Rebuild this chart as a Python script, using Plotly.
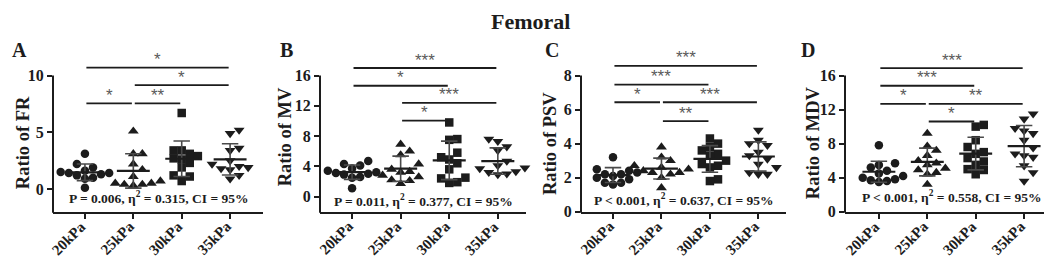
import plotly.graph_objects as go
import numpy as np

# ---------------- data ----------------
categories = ["20kPa", "25kPa", "30kPa", "35kPa"]

fr_20 = [3.1, 2.2, 1.9, 1.6, 1.5, 1.4, 1.4, 1.3, 1.2, 1.0, 0.9, 0.1]
fr_25 = [5.1, 3.1, 3.1, 2.2, 1.7, 1.1, 0.7, 0.5, 0.5, 0.4, 0.4, 0.3]
fr_30 = [6.7, 3.4, 3.4, 3.1, 2.9, 2.7, 2.6, 2.3, 1.9, 1.2, 1.1, 0.7]
fr_35 = [5.2, 4.9, 3.6, 3.4, 2.5, 2.2, 2.0, 1.9, 1.8, 1.7, 1.2, 0.9]

mv_20 = [4.7, 4.3, 4.1, 3.7, 3.4, 3.2, 3.1, 3.0, 2.9, 2.6, 2.5, 1.1]
mv_25 = [6.9, 6.0, 5.5, 4.3, 3.6, 3.3, 3.2, 2.8, 2.6, 2.2, 2.1, 1.7]
mv_30 = [9.8, 7.6, 7.5, 5.8, 5.2, 4.9, 4.4, 3.6, 2.5, 2.4, 1.9, 1.8]
mv_35 = [7.6, 7.3, 6.6, 6.1, 4.7, 4.1, 3.8, 3.7, 3.3, 3.2, 3.0, 2.9]

psv_20 = [3.2, 2.5, 2.4, 2.3, 2.2, 2.2, 2.1, 2.0, 1.9, 1.7, 1.7, 1.6]
psv_25 = [3.8, 3.2, 3.0, 2.7, 2.6, 2.5, 2.4, 2.3, 2.3, 2.2, 2.0, 1.4]
psv_30 = [4.3, 4.0, 3.8, 3.6, 3.4, 3.3, 3.0, 2.8, 2.7, 2.6, 1.9, 1.8]
psv_35 = [4.8, 4.2, 4.0, 3.9, 3.5, 3.3, 3.1, 2.8, 2.6, 2.3, 2.2, 2.2]

mdv_20 = [7.8, 5.7, 5.5, 5.2, 4.8, 4.5, 4.2, 4.0, 3.8, 3.7, 3.6, 3.5]
mdv_25 = [9.2, 7.7, 7.2, 6.6, 6.0, 5.7, 5.5, 5.1, 4.9, 4.6, 4.4, 3.2]
mdv_30 = [10.2, 10.0, 8.4, 7.6, 7.0, 6.8, 6.3, 5.9, 5.5, 5.0, 4.9, 4.4]
mdv_35 = [11.5, 10.9, 9.8, 9.5, 9.2, 8.4, 7.5, 6.8, 6.6, 6.4, 5.4, 4.6, 3.6]

# significance comparisons: (group i, group j, bar level, label)
sig_fr = [(0, 3, 10.7, "*"), (1, 3, 9.15, "*"), (0, 1, 7.55, "*"), (1, 2, 7.55, "**")]
sig_mv = [(0, 3, 17.0, "***"), (0, 2, 14.65, "*"), (1, 3, 12.4, "***"), (1, 2, 10.05, "*")]
sig_psv = [(0, 3, 8.57, "***"), (0, 2, 7.47, "***"), (0, 1, 6.43, "*"), (1, 3, 6.43, "***"), (1, 2, 5.32, "**")]
sig_mdv = [(0, 3, 16.87, "***"), (0, 2, 14.8, "***"), (0, 1, 12.67, "*"), (1, 3, 12.67, "**"), (1, 2, 10.6, "*")]

stats_fr = "P = 0.006, η<sup>2</sup> = 0.315, CI = 95%"
stats_mv = "P = 0.011, η<sup>2</sup> = 0.377, CI = 95%"
stats_psv = "P < 0.001, η<sup>2</sup> = 0.637, CI = 95%"
stats_mdv = "P < 0.001, η<sup>2</sup> = 0.558, CI = 95%"

# ---------------- layout settings ----------------
W, H = 1052, 259
SERIF = "Liberation Serif"
INK = "#1c1c1c"
symbols = ["circle", "triangle-up", "square", "triangle-down"]
msizes = [8.5, 9.5, 8.5, 9.5]

PLOT_BOTTOM_PX = 211
TOP_TICK_PX = 70
PLOT_TOP_PX = 50

panels = [
    dict(letter="A", title="Ratio of FR", groups=[fr_20, fr_25, fr_30, fr_35], sig=sig_fr, stats=stats_fr,
         xpx=(45, 255), xr=(-0.66, 3.68), ymin=-2, ytop=10, ticks=[0, 5, 10],
         letter_x=11, title_x=15, title_y=140, stats_y=196),
    dict(letter="B", title="Ratio of MV", groups=[mv_20, mv_25, mv_30, mv_35], sig=sig_mv, stats=stats_mv,
         xpx=(312, 518), xr=(-0.66, 3.58), ymin=-2, ytop=16, ticks=[0, 4, 8, 12, 16],
         letter_x=278, title_x=277, title_y=134, stats_y=199),
    dict(letter="C", title="Ratio of PSV", groups=[psv_20, psv_25, psv_30, psv_35], sig=sig_psv, stats=stats_psv,
         xpx=(573, 778), xr=(-0.66, 3.57), ymin=0, ytop=8, ticks=[0, 2, 4, 6, 8],
         letter_x=544, title_x=542, title_y=141, stats_y=198),
    dict(letter="D", title="Ratio of MDV", groups=[mdv_20, mdv_25, mdv_30, mdv_35], sig=sig_mdv, stats=stats_mdv,
         xpx=(837, 1050), xr=(-0.70, 3.70), ymin=0, ytop=16, ticks=[0, 4, 8, 12, 16],
         letter_x=800, title_x=805, title_y=140, stats_y=195),
]


def py(px):
    return (H - px) / H


def beeswarm(values, xscale, yscale, diam):
    """Deterministic dot-plot spread: returns x offsets (data units)."""
    order = np.argsort(values)
    placed = []
    offs = np.zeros(len(values))
    step = diam * 0.95
    for idx in order:
        yv = values[idx] * yscale
        k = 0
        while True:
            cand = 0 if k == 0 else ((k + 1) // 2) * step * (1 if k % 2 else -1)
            ok = all((cand - px_) ** 2 + (yv - py_) ** 2 >= (diam * 0.95) ** 2 for px_, py_ in placed)
            if ok:
                break
            k += 1
        placed.append((cand, yv))
        offs[idx] = cand / xscale
    return offs


fig = go.Figure()
shapes = []
annotations = []
layout_axes = {}

ydom = [py(PLOT_BOTTOM_PX), py(PLOT_TOP_PX)]

for p_i, P in enumerate(panels):
    n = "" if p_i == 0 else str(p_i + 1)
    xname, yname = "x" + n, "y" + n
    ymin, ytop = P["ymin"], P["ytop"]
    ymax = ytop + (TOP_TICK_PX - PLOT_TOP_PX) * (ytop - ymin) / (PLOT_BOTTOM_PX - TOP_TICK_PX)
    x0px, x1px = P["xpx"]
    xscale = (x1px - x0px) / (P["xr"][1] - P["xr"][0])
    yscale = (PLOT_BOTTOM_PX - PLOT_TOP_PX) / (ymax - ymin)

    layout_axes["xaxis" + n] = dict(
        domain=[x0px / W, x1px / W], range=list(P["xr"]), anchor=yname,
        tickmode="array", tickvals=list(range(len(categories))), ticktext=categories,
        showticklabels=False, ticks="outside", ticklen=5, tickwidth=2, tickcolor=INK,
        showline=True, linewidth=2, linecolor=INK, showgrid=False, zeroline=False,
        fixedrange=True)
    layout_axes["yaxis" + n] = dict(
        domain=ydom, range=[ymin, ymax], anchor=xname,
        tickmode="array", tickvals=P["ticks"], ticks="outside", ticklen=5, tickwidth=2,
        tickcolor=INK, showline=False, showgrid=False, zeroline=False,
        tickfont=dict(family=SERIF, size=16, color=INK, weight="bold"), fixedrange=True)

    # category labels (rotated, ending at tick)
    for g_i, cat in enumerate(categories):
        annotations.append(dict(x=g_i, y=py(PLOT_BOTTOM_PX + 3), xref=xname, yref="paper",
                                text=cat, showarrow=False, textangle=-45,
                                xanchor="right", yanchor="top", xshift=7,
                                font=dict(family=SERIF, size=15, color=INK, weight="bold")))

    # y axis line from ymin to top tick (Prism style)
    ypx_top = PLOT_BOTTOM_PX - (ytop - ymin) * yscale
    shapes.append(dict(type="line", xref="paper", yref="paper",
                       x0=x0px / W, x1=x0px / W, y0=py(PLOT_BOTTOM_PX + 1), y1=py(ypx_top),
                       line=dict(color=INK, width=2)))

    # scatter points
    for g_i, vals in enumerate(P["groups"]):
        vals = np.asarray(vals, dtype=float)
        offs = beeswarm(vals, xscale, yscale, msizes[g_i])
        fig.add_trace(go.Scatter(
            x=g_i + offs, y=vals, mode="markers", xaxis=xname, yaxis=yname,
            marker=dict(symbol=symbols[g_i], size=msizes[g_i], color=INK, line=dict(width=0)),
            showlegend=False, hoverinfo="skip", cliponaxis=False))

    # mean & SD
    mx, my, sx, sy = [], [], [], []
    for g_i, vals in enumerate(P["groups"]):
        m = float(np.mean(vals))
        s = float(np.std(vals, ddof=1))
        mx += [g_i - 0.34, g_i + 0.34, None]
        my += [m, m, None]
        sx += [g_i, g_i, None, g_i - 0.17, g_i + 0.17, None, g_i - 0.17, g_i + 0.17, None]
        sy += [m - s, m + s, None, m + s, m + s, None, m - s, m - s, None]
    fig.add_trace(go.Scatter(x=sx, y=sy, mode="lines", xaxis=xname, yaxis=yname,
                             line=dict(color="#4a4a4a", width=1.6), showlegend=False, hoverinfo="skip"))
    fig.add_trace(go.Scatter(x=mx, y=my, mode="lines", xaxis=xname, yaxis=yname,
                             line=dict(color=INK, width=2.2), showlegend=False, hoverinfo="skip"))

    # significance bars
    for (i, j, lvl, lab) in P["sig"]:
        shapes.append(dict(type="line", xref=xname, yref=yname, x0=i + 0.03, x1=j - 0.03,
                           y0=lvl, y1=lvl, line=dict(color=INK, width=1.8)))
        annotations.append(dict(x=(i + j) / 2, y=lvl, xref=xname, yref=yname, text=lab,
                                showarrow=False, yanchor="middle", yshift=8,
                                font=dict(family="Liberation Sans", size=17, color="#5a5a5a")))

    # stats text
    annotations.append(dict(x=(x0px + x1px) / 2 / W, y=py(P["stats_y"]), xref="paper", yref="paper",
                            text=P["stats"], showarrow=False, xanchor="center", yanchor="middle",
                            font=dict(family=SERIF, size=13.5, color=INK, weight="bold")))
    # y title
    annotations.append(dict(x=P["title_x"] / W, y=py(P["title_y"]), xref="paper", yref="paper",
                            text=P["title"], showarrow=False, textangle=-90,
                            xanchor="center", yanchor="middle",
                            font=dict(family=SERIF, size=18.5, color=INK, weight="bold")))
    # panel letter
    annotations.append(dict(x=P["letter_x"] / W, y=py(43), xref="paper", yref="paper",
                            text=P["letter"], showarrow=False, xanchor="center", yanchor="middle",
                            font=dict(family=SERIF, size=20, color=INK, weight="bold")))

annotations.append(dict(x=522 / W, y=1.0, xref="paper", yref="paper", text="Femoral",
                        showarrow=False, xanchor="center", yanchor="top", borderpad=0,
                        font=dict(family=SERIF, size=22, color=INK, weight="bold")))

fig.update_layout(
    width=W, height=H, margin=dict(l=0, r=0, t=0, b=0),
    paper_bgcolor="white", plot_bgcolor="white",
    shapes=shapes, annotations=annotations, showlegend=False,
    **layout_axes)

fig.write_html("out.html", config={"displayModeBar": False})
